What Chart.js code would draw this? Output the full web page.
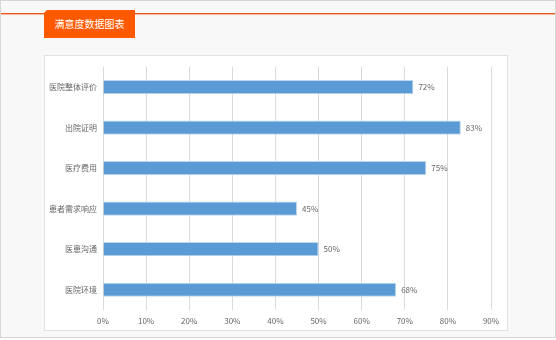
<!DOCTYPE html>
<html>
<head>
<meta charset="utf-8">
<script src="https://cdn.jsdelivr.net/npm/chart.js@4/dist/chart.umd.min.js"></script>
<style>
  html, body { margin: 0; padding: 0; background: #fff; }
  .page {
    position: relative; width: 554px; height: 336px;
    background: #f8f8f8; border: 1px solid #d6d6d6;
    font-family: "Noto Sans CJK SC", "Noto Sans", sans-serif;
  }
  .rule { position: absolute; left: 0; right: 0; top: 12px; height: 1px; background: #e8551f; border-bottom: 1px solid #f7b99c; }
  .tab {
    position: absolute; left: 43px; top: 9px; width: 91px; height: 28px;
    background: #ff5a00; color: #fff; font-size: 10px; line-height: 28px; text-align: center;
  }
  .tab::before {
    content: ""; position: absolute; left: 0; top: 0; width: 0; height: 0;
    border-top: 3px solid #f8f8f8; border-right: 3px solid transparent;
  }
  .panel {
    position: absolute; left: 43px; top: 54px; width: 462px; height: 274px;
    background: #fff; border: 1px solid #e2e2e2;
  }
  .panel canvas { position: absolute; left: 0; top: 0; }
</style>
</head>
<body>
<div class="page">
  <div class="rule"></div>
  <div class="tab">满意度数据图表</div>
  <div class="panel"><canvas id="chart" width="462" height="274"></canvas></div>
</div>
<script>
const categories = ['医院整体评价', '出院证明', '医疗费用', '患者需求响应', '医患沟通', '医院环境'];
const satisfaction = [72, 83, 75, 45, 50, 68];
const xMax = 90;
const xStep = 10;

const textColor = '#666666';
const fontFamily = '"Noto Sans CJK SC", "Noto Sans", sans-serif';

// value labels to the right of each bar
const barLabels = {
  id: 'barLabels',
  afterDatasetsDraw(chart) {
    const ctx = chart.ctx;
    const meta = chart.getDatasetMeta(0);
    ctx.save();
    ctx.fillStyle = textColor;
    ctx.font = '8px ' + fontFamily;
    ctx.textAlign = 'left';
    ctx.textBaseline = 'middle';
    meta.data.forEach((bar, i) => {
      ctx.fillText(satisfaction[i] + '%', bar.x + 5, bar.y);
    });
    ctx.restore();
  }
};

new Chart(document.getElementById('chart'), {
  type: 'bar',
  data: {
    labels: categories,
    datasets: [{
      data: satisfaction,
      backgroundColor: '#5b9bd5',
      borderColor: '#bcd6ee',
      borderWidth: 1,
      borderSkipped: 'left',
      categoryPercentage: 1,
      barPercentage: 0.35
    }]
  },
  options: {
    indexAxis: 'y',
    responsive: false,
    animation: false,
    layout: { padding: { left: 0, top: 9, right: 16, bottom: 0 } },
    plugins: { legend: { display: false }, tooltip: { enabled: false } },
    scales: {
      x: {
        min: 0, max: xMax,
        afterFit(scale) { scale.height = 20; },
        ticks: {
          stepSize: xStep, padding: 6, color: textColor,
          font: { size: 8, family: fontFamily },
          callback: v => v + '%'
        },
        grid: { color: '#dadada', drawTicks: false },
        border: { display: false }
      },
      y: {
        afterFit(scale) { scale.width = 58; },
        ticks: { padding: 6, color: textColor, font: { size: 8, family: fontFamily } },
        grid: { display: false, drawTicks: false },
        border: { display: false }
      }
    }
  },
  plugins: [barLabels]
});
</script>
</body>
</html>
